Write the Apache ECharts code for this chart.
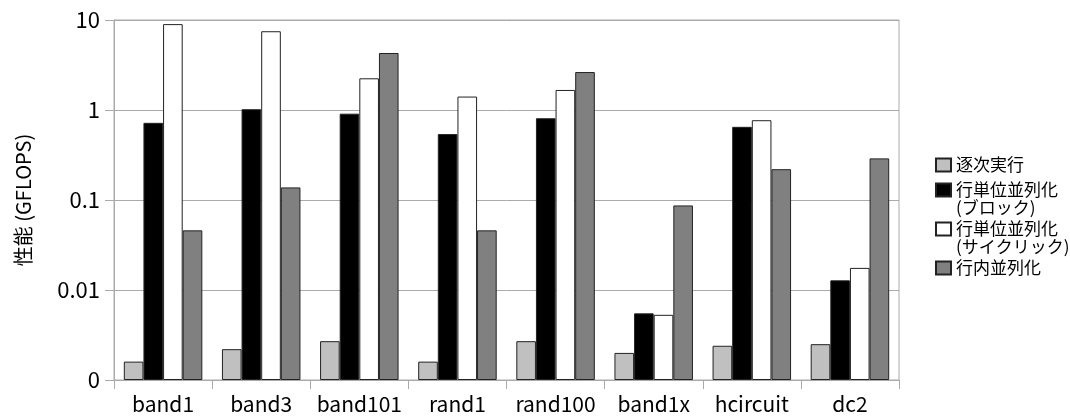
<!DOCTYPE html>
<html>
<head>
<meta charset="utf-8">
<script src="https://cdn.jsdelivr.net/npm/echarts@6/dist/echarts.min.js"></script>
<style>
  html, body { margin: 0; padding: 0; background: #fff; }
  #chart { width: 1070px; height: 419px; }
</style>
</head>
<body>
<div id="chart"></div>
<script>
var categories = ['band1', 'band3', 'band101', 'rand1', 'rand100', 'band1x', 'hcircuit', 'dc2'];

var seriesNames = ['逐次実行', '行単位並列化\n(ブロック)', '行単位並列化\n(サイクリック)', '行内並列化'];
var seriesColors = ['#c0c0c0', '#000000', '#ffffff', '#808080'];

var sequential = [0.0016, 0.0022, 0.0027, 0.0016, 0.0027, 0.0020, 0.0024, 0.0025];
var rowBlock   = [0.72, 1.02, 0.91, 0.54, 0.81, 0.0055, 0.65, 0.0128];
var rowCyclic  = [9.0, 7.5, 2.25, 1.41, 1.67, 0.0053, 0.77, 0.0176];
var inRow      = [0.046, 0.138, 4.3, 0.046, 2.64, 0.087, 0.22, 0.29];

var yTicks = [0.001, 0.01, 0.1, 1, 10];
var yTickLabels = ['0', '0.01', '0.1', '1', '10'];

var font = '"Noto Sans CJK JP", "Noto Sans", sans-serif';
var allData = [sequential, rowBlock, rowCyclic, inRow];

// 凡例: 1項目ずつ配置 (2行の項目は先頭に空行を入れてアイコンを1行目に合わせる)
var legendTops = [156, 163, 202, 259];
var legends = seriesNames.map(function (name, i) {
    var twoLine = name.indexOf('\n') >= 0;
    return {
        data: [name],
        orient: 'vertical',
        left: 935,
        top: legendTops[i],
        padding: 0,
        itemWidth: 15,
        itemHeight: 13,
        icon: 'rect',
        selectedMode: false,
        formatter: function (n) { return twoLine ? ' \n' + n : n; },
        textStyle: {
            fontFamily: font,
            fontSize: 17,
            lineHeight: 18,
            color: '#000'
        }
    };
});

var chart = echarts.init(document.getElementById('chart'));

var option = {
    backgroundColor: '#fff',
    animation: false,
    textStyle: { fontFamily: font },
    legend: legends,
    grid: {
        left: 114,
        right: 171,
        top: 20,
        bottom: 39,
        show: true,
        borderColor: '#aaa',
        borderWidth: 1
    },
    xAxis: {
        type: 'category',
        data: categories,
        axisLine: { lineStyle: { color: '#aaa' } },
        axisTick: { show: true, length: 9, lineStyle: { color: '#aaa' } },
        axisLabel: { color: '#000', fontSize: 21, fontFamily: font, margin: 14, interval: 0 }
    },
    yAxis: {
        type: 'log',
        logBase: 10,
        min: 0.001,
        max: 10,
        startValue: 0.001,
        name: '性能 (GFLOPS)',
        nameLocation: 'middle',
        nameGap: 81,
        nameTextStyle: { fontSize: 20, color: '#000', fontFamily: font },
        axisLine: { show: true, lineStyle: { color: '#aaa' } },
        axisTick: { show: true, length: 9, lineStyle: { color: '#aaa' } },
        splitLine: { lineStyle: { color: '#aaa' } },
        axisLabel: {
            color: '#000',
            fontSize: 22,
            fontFamily: font,
            margin: 14,
            formatter: function (v) {
                for (var i = 0; i < yTicks.length; i++) {
                    if (Math.abs(Math.log10(v) - Math.log10(yTicks[i])) < 1e-6) return yTickLabels[i];
                }
                return '';
            }
        }
    },
    series: seriesNames.map(function (name, i) {
        return {
            name: name,
            type: 'bar',
            data: allData[i],
            barGap: '0%',
            barCategoryGap: '20%',
            itemStyle: { color: seriesColors[i], borderColor: '#222', borderWidth: 1 }
        };
    })
};

option && chart.setOption(option);
window.addEventListener('resize', chart.resize);
</script>
</body>
</html>
